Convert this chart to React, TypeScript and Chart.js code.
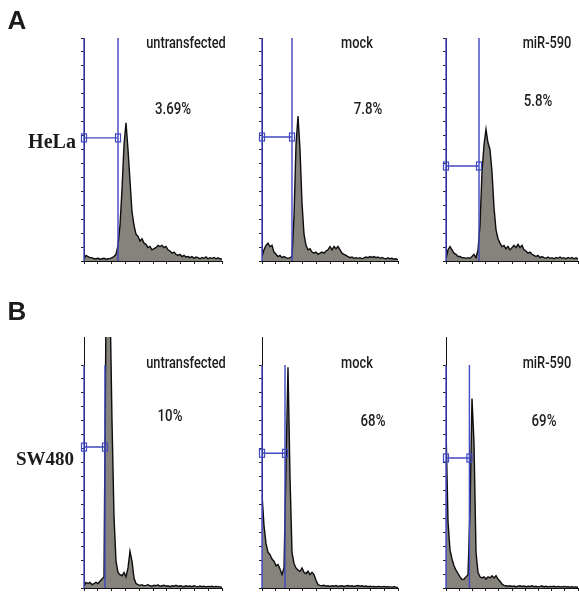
import React, { useEffect, useRef } from "react";
import { Chart, registerables } from "chart.js";

Chart.register(...registerables);

// ---------- data (histogram heights, % of the ticked y range) ----------
const HELA_UNTRANSFECTED = [
  1, 2.5, 2, 1.5, 1.5, 1, 1, 1.2, 0.8, 1, 1.2, 0.8, 1, 1.2, 1.5, 2, 3, 7, 16, 32,
  52, 62, 50, 36, 22, 16, 12, 11, 9, 10, 8, 7.5, 6, 6.5, 5, 5.5, 6, 7, 6.5, 7,
  6, 6.5, 5, 4.5, 3.5, 4, 3, 2.5, 3, 2, 2.5, 1.8, 2, 1.5, 2, 1.2, 1.8, 1.5, 1, 1.6,
  1.2, 1.8, 1, 1.5, 1.2, 1.6, 1, 1.4, 1, 0.8,
];
const HELA_MOCK = [
  2, 5, 7, 8, 6.5, 7, 4, 3, 2, 2.5, 1.5, 2, 1.5, 1.2, 1.5, 2, 20, 52, 65, 50,
  26, 12, 7, 5, 5.5, 4, 3.5, 4, 3, 3.5, 4, 3.5, 4.5, 5, 6.5, 5, 6.5, 5.5, 6.5, 5,
  3.5, 3, 2.5, 2, 1.5, 1.8, 1.2, 1.5, 1.2, 1.5, 1, 1.4, 1.8, 1.5, 2, 1.6, 2, 1.5, 1.8, 1.2,
  1.6, 1.2, 1, 1.4, 1, 1.2, 0.8, 1, 0.6,
];
const HELA_MIR590 = [
  1, 5, 6.5, 5, 3.5, 3, 2, 2, 1.5, 1.5, 1.2, 1.5, 1.2, 2, 3, 1.5, 5, 16, 40, 52,
  59, 53, 50, 40, 24, 14, 10, 8, 6.5, 7, 5.5, 6.5, 5, 6, 7, 6, 7.5, 6, 7, 5,
  4.5, 3.5, 4, 3, 2.5, 2, 2.5, 1.5, 2, 1.5, 1.2, 1.8, 1.2, 1.5, 1, 1.6, 1.2, 1.8, 1.2, 1.5,
  1, 1.6, 1.2, 1.6, 1, 1.4, 0.8,
];
const SW480_UNTRANSFECTED = [
  1, 2.5, 2, 2.5, 1.5, 2, 2.5, 2, 3, 4, 5, 125, 150, 130, 75, 32, 12, 7, 6, 5.5,
  7, 5, 9, 16.5, 12, 4.5, 2, 1.5, 1.2, 1.5, 1, 1.2, 1.5, 1, 0.8, 1.2, 1, 1.4, 0.8, 1,
  1.2, 0.8, 1, 0.6, 1, 0.8, 1.2, 0.7, 1, 0.8, 0.6, 1, 0.7, 0.9, 0.6, 1, 0.7, 0.5, 0.9, 0.6,
  0.8, 0.5, 0.7, 0.6, 0.8, 0.5, 0.7, 0.6, 0.5, 0.4,
];
const SW480_MOCK = [
  42, 28, 20, 16, 15, 13, 12, 10, 10.5, 8.5, 6, 9, 55, 99, 50, 16, 11, 9, 8, 7.5,
  9, 7, 6.5, 7.5, 6, 7, 6, 3.5, 1.5, 1.2, 1, 1.2, 0.8, 1, 0.7, 1, 0.8, 1.1, 0.7, 0.9,
  1, 0.7, 0.9, 1.1, 0.8, 1, 0.7, 0.9, 1.1, 0.8, 1, 0.7, 0.9, 0.6, 0.8, 0.6, 0.7, 0.5, 0.7, 0.6,
  0.5, 0.7, 0.5, 0.6, 0.5, 0.4, 0.6, 0.4, 0.3,
];
const SW480_MIR590 = [
  72, 30, 17, 13, 10, 8, 6.5, 5, 3.8, 4, 5, 6, 35, 85, 65, 16, 7, 5, 4.5, 5,
  4, 5, 4.5, 5.5, 4.5, 5.5, 4, 3, 1.8, 1.2, 1, 0.8, 1, 0.7, 0.9, 0.6, 0.8, 1, 0.7, 0.9,
  0.6, 0.8, 0.7, 1, 0.6, 0.8, 0.5, 0.7, 0.9, 0.6, 0.8, 0.5, 0.7, 0.6, 0.8, 0.5, 0.7, 0.6, 0.5, 0.7,
  0.5, 0.6, 0.4, 0.6, 0.4, 0.5, 0.3,
];

// gate: right edge (channel index) and horizontal bar level (%)
const GATE_RIGHT = [17, 15, 16.5, 10.5, 11.5, 11.7];
const GATE_BAR = [55.2, 55.6, 42.6, 63.2, 60.4, 58.3];

const CONDITIONS = ["untransfected", "mock", "miR-590"];
const PERCENTS = ["3.69%", "7.8%", "5.8%", "10%", "68%", "69%"];
const CELL_LINES = ["HeLa", "SW480"];
const ROW_LETTERS = ["A", "B"];

const SERIES = [
  HELA_UNTRANSFECTED, HELA_MOCK, HELA_MIR590,
  SW480_UNTRANSFECTED, SW480_MOCK, SW480_MIR590,
];

// ---------- layout ----------
const W = 579;
const H = 592;
const TICK = 3;
const BLUE = "#4148c2";
const FILL = "#86827c";

const BOXES = [
  { l: 84, r: 222, t: 38, b: 261, yMax: 100 },
  { l: 262, r: 398, t: 38, b: 261, yMax: 100 },
  { l: 446, r: 578, t: 38, b: 261, yMax: 100 },
  { l: 84, r: 222, t: 337, b: 588, yMax: 112.56 },
  { l: 262, r: 398, t: 337, b: 588, yMax: 112.56 },
  { l: 446, r: 578, t: 337, b: 588, yMax: 112.56 },
];

const COND_POS = [
  { x: 186, y: 43 }, { x: 357, y: 43 }, { x: 547, y: 43 },
  { x: 186, y: 363 }, { x: 357, y: 363 }, { x: 547, y: 363 },
];
const PCT_POS = [
  { x: 173, y: 108 }, { x: 368, y: 108 }, { x: 538, y: 100 },
  { x: 170, y: 415 }, { x: 373, y: 420 }, { x: 544, y: 420 },
];

const gatePlugin = {
  id: "gate",
  afterDatasetsDraw(chart: any, _args: any, opts: any) {
    const { ctx, scales } = chart;
    const x = scales.x;
    const y = scales.y;
    const x0 = x.getPixelForValue(0);
    const x1 = x.getPixelForValue(opts.right);
    const yt = y.getPixelForValue(100);
    const yb = y.getPixelForValue(0);
    const yg = y.getPixelForValue(opts.bar);
    ctx.save();
    ctx.strokeStyle = BLUE;
    ctx.lineWidth = 1.4;
    ctx.beginPath();
    ctx.moveTo(x0, yt);
    ctx.lineTo(x0, yb);
    ctx.moveTo(x1, yt);
    ctx.lineTo(x1, yb);
    ctx.moveTo(x0, yg);
    ctx.lineTo(x1, yg);
    ctx.stroke();
    ctx.lineWidth = 1.2;
    ctx.strokeRect(x0 - 2.5, yg - 4, 5, 8);
    ctx.strokeRect(x1 - 2.5, yg - 4, 5, 8);
    ctx.restore();
  },
};

function makeConfig(idx: number): any {
  const values = SERIES[idx];
  const box = BOXES[idx];
  const n = values.length;
  return {
    type: "line",
    data: {
      datasets: [
        {
          data: values.map((v, i) => ({ x: i, y: v })),
          borderColor: "#0d0d0d",
          borderWidth: 1.4,
          backgroundColor: FILL,
          fill: "origin",
          pointRadius: 0,
          tension: 0,
        },
      ],
    },
    options: {
      animation: false,
      responsive: false,
      events: [],
      layout: {
        padding: {
          left: box.l - TICK,
          top: box.t,
          right: W - box.r,
          bottom: H - box.b - TICK,
        },
      },
      plugins: {
        legend: { display: false },
        tooltip: { enabled: false },
        gate: { right: GATE_RIGHT[idx], bar: GATE_BAR[idx] },
      },
      scales: {
        x: {
          type: "linear",
          min: 0,
          max: n - 1,
          ticks: { display: false, count: 11 },
          grid: { drawOnChartArea: false, tickLength: TICK, color: "#222" },
          border: { display: true, color: "#111", width: 1 },
        },
        y: {
          type: "linear",
          min: 0,
          max: box.yMax,
          ticks: { display: false, stepSize: 6.25 },
          afterBuildTicks: (axis: any) => {
            axis.ticks = axis.ticks.filter((t: any) => t.value <= 100.001);
          },
          grid: { drawOnChartArea: false, tickLength: TICK, color: "#222" },
          border: { display: true, color: "#111", width: 1 },
        },
      },
    },
    plugins: [gatePlugin],
  };
}

const labelFont = '500 16px Roboto, "Noto Sans", sans-serif';
const pctFont = '500 17px Roboto, "Noto Sans", sans-serif';

function Label(props: { x: number; y: number; text: string; font: string; sx?: number }) {
  return (
    <span
      style={{
        position: "absolute",
        left: props.x,
        top: props.y,
        transform: `translate(-50%, -50%) scaleX(${props.sx ?? 1})`,
        font: props.font,
        whiteSpace: "nowrap",
        color: "#1b1b1b",
        lineHeight: 1,
      }}
    >
      {props.text}
    </span>
  );
}

export default function App() {
  const refs = useRef<(HTMLCanvasElement | null)[]>([]);

  useEffect(() => {
    const charts: Chart[] = [];
    SERIES.forEach((_, i) => {
      const c = refs.current[i];
      if (c) charts.push(new Chart(c, makeConfig(i)));
    });
    return () => charts.forEach((ch) => ch.destroy());
  }, []);

  return (
    <div
      style={{
        position: "fixed",
        left: 0,
        top: 0,
        width: W,
        height: H,
        background: "#fff",
        overflow: "hidden",
      }}
    >
      {SERIES.map((_, i) => (
        <canvas
          key={i}
          ref={(el) => {
            refs.current[i] = el;
          }}
          width={W}
          height={H}
          style={{ position: "absolute", left: 0, top: 0, width: W, height: H }}
        />
      ))}
      <Label x={17} y={20} text={ROW_LETTERS[0]} font='bold 26px "Liberation Sans", Arial, sans-serif' />
      <Label x={17} y={311} text={ROW_LETTERS[1]} font='bold 26px "Liberation Sans", Arial, sans-serif' />
      <Label x={52} y={141} text={CELL_LINES[0]} font='bold 20px "Liberation Serif", "Times New Roman", serif' />
      <Label x={45} y={458} text={CELL_LINES[1]} font='bold 19px "Liberation Serif", "Times New Roman", serif' />
      {COND_POS.map((p, i) => (
        <Label key={"c" + i} x={p.x} y={p.y} text={CONDITIONS[i % 3]} font={labelFont} sx={0.8} />
      ))}
      {PCT_POS.map((p, i) => (
        <Label key={"p" + i} x={p.x} y={p.y} text={PERCENTS[i]} font={pctFont} sx={0.78} />
      ))}
    </div>
  );
}
